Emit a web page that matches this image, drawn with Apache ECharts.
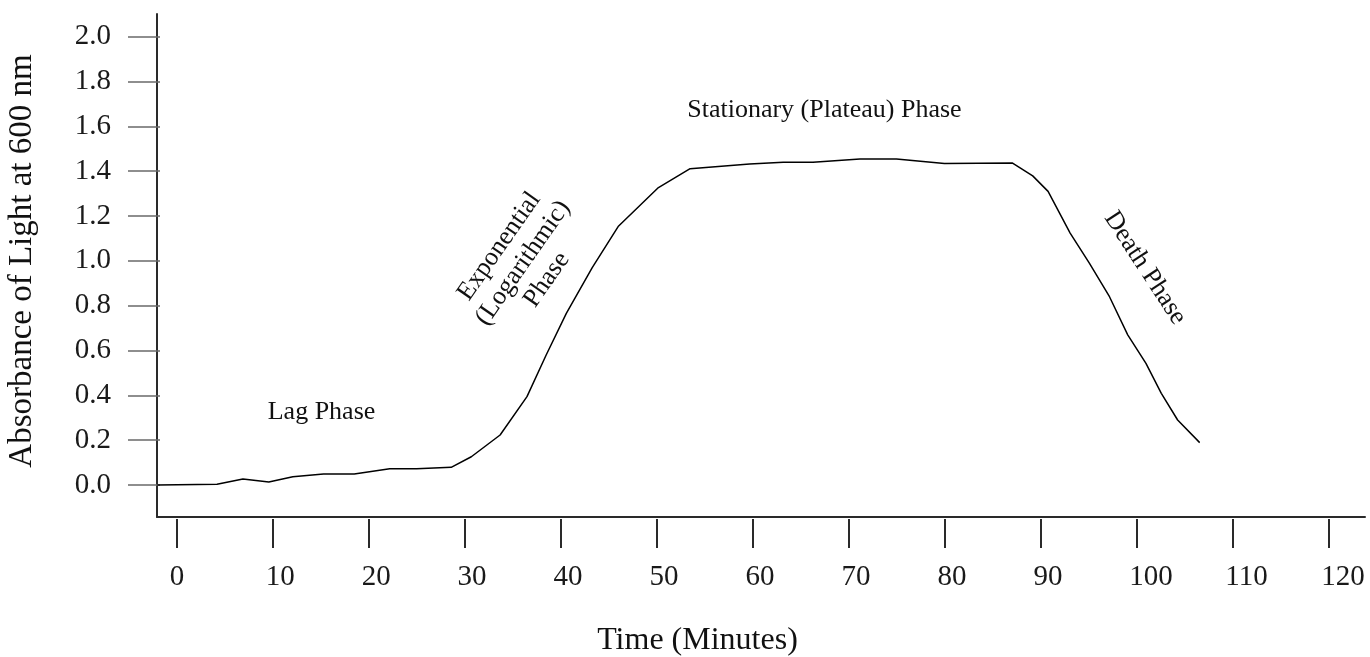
<!DOCTYPE html>
<html>
<head>
<meta charset="utf-8">
<script src="https://cdn.jsdelivr.net/npm/echarts@6/dist/echarts.min.js"></script>
<style>
  html, body { margin: 0; padding: 0; background: #fff; }
  #chart { width: 1370px; height: 657px; }
</style>
</head>
<body>
<div id="chart"></div>
<script>
// ---- data ----
const timeMinutes = [-2, 4.2, 6.9, 9.6, 12.1, 15.3, 18.5, 22.2, 25.0, 28.6, 30.7, 33.7, 36.5, 38.5, 40.6, 43.3, 46.0, 50.2, 53.5, 59.7, 63.2, 66.3, 71.2, 75.0, 80.0, 87.1, 89.2, 90.8, 93.1, 95.1, 97.2, 99.1, 101.0, 102.6, 104.3, 106.6];
const absorbance = [0, 0.003, 0.027, 0.013, 0.037, 0.049, 0.049, 0.073, 0.073, 0.079, 0.126, 0.223, 0.394, 0.58, 0.766, 0.97, 1.153, 1.327, 1.411, 1.432, 1.44, 1.44, 1.454, 1.454, 1.434, 1.436, 1.379, 1.31, 1.124, 0.99, 0.84, 0.67, 0.543, 0.409, 0.29, 0.189];
const xTicks = { min: 0, max: 120, interval: 10 };
const yTicks = { min: 0, max: 2.0, interval: 0.2 };
const xTitle = 'Time (Minutes)';
const yTitle = 'Absorbance of Light at 600 nm';
const phaseLabels = ['Lag Phase', 'Exponential\n(Logarithmic)\nPhase', 'Stationary (Plateau) Phase', 'Death Phase'];

// ---- layout (pixels) ----
const W = 1370, H = 657;
const frame = { left: 157, right: 1365, top: 14, bottom: 517 };       // axis-line box
const tickBox = { left: 176.7, right: 1328.3, top: 36.7, bottom: 485 }; // where 0..120 and 0..2 fall
const labelShift = -7;

const FONT = '"Liberation Serif", "DejaVu Serif", serif';
const points = timeMinutes.map((t, i) => [t, absorbance[i]]);

// frame axes share the tick scale, extended to the frame box
const pxX = (tickBox.right - tickBox.left) / (xTicks.max - xTicks.min);
const pxY = (tickBox.bottom - tickBox.top) / (yTicks.max - yTicks.min);
const frameX = { min: xTicks.min - (tickBox.left - frame.left) / pxX, max: xTicks.max + (frame.right - tickBox.right) / pxX };
const frameY = { min: yTicks.min - (frame.bottom - tickBox.bottom) / pxY, max: yTicks.max + (tickBox.top - frame.top) / pxY };

const gridBase = { containLabel: false, outerBoundsMode: 'none' };
const chart = echarts.init(document.getElementById('chart'), null, { renderer: 'canvas' });
chart.setOption({
  backgroundColor: '#ffffff',
  animation: false,
  grid: [
    Object.assign({ left: frame.left, right: W - frame.right, top: frame.top, bottom: H - frame.bottom }, gridBase),
    Object.assign({ left: tickBox.left, right: W - tickBox.right, top: tickBox.top, bottom: H - tickBox.bottom }, gridBase),
    Object.assign({ left: tickBox.left + labelShift, right: W - tickBox.right - labelShift, top: tickBox.top, bottom: H - tickBox.bottom }, gridBase)
  ],
  xAxis: [
    { gridIndex: 0, type: 'value', min: frameX.min, max: frameX.max,
      axisLine: { show: true, onZero: false, lineStyle: { color: '#2a2a2a', width: 2 } },
      axisTick: { show: false }, axisLabel: { show: false }, splitLine: { show: false } },
    { gridIndex: 1, type: 'value', min: xTicks.min, max: xTicks.max, interval: xTicks.interval,
      position: 'bottom', offset: 34,
      axisLine: { show: false, onZero: false },
      axisTick: { show: true, inside: false, length: 29, lineStyle: { color: '#2a2a2a', width: 2 } },
      axisLabel: { show: false }, splitLine: { show: false } },
    { gridIndex: 2, type: 'value', min: xTicks.min, max: xTicks.max, interval: xTicks.interval,
      position: 'bottom', offset: 34,
      axisLine: { show: false, onZero: false }, axisTick: { show: false },
      axisLabel: { show: true, margin: 44, align: 'left', fontFamily: FONT, fontSize: 29, color: '#1a1a1a' },
      splitLine: { show: false } }
  ],
  yAxis: [
    { gridIndex: 0, type: 'value', min: frameY.min, max: frameY.max,
      axisLine: { show: true, onZero: false, lineStyle: { color: '#2a2a2a', width: 2 } },
      axisTick: { show: false }, axisLabel: { show: false }, splitLine: { show: false } },
    { gridIndex: 1, type: 'value', min: yTicks.min, max: yTicks.max, interval: yTicks.interval,
      position: 'left', offset: 48.7,
      axisLine: { show: false, onZero: false },
      axisTick: { show: true, inside: true, length: 32, lineStyle: { color: '#6a6a6a', width: 1.5 } },
      axisLabel: { show: true, margin: 17, fontFamily: FONT, fontSize: 29, color: '#1a1a1a',
        formatter: v => v.toFixed(1) },
      splitLine: { show: false } },
    { gridIndex: 2, type: 'value', min: yTicks.min, max: yTicks.max, show: false }
  ],
  series: [{
    type: 'line',
    xAxisIndex: 0,
    yAxisIndex: 0,
    data: points,
    showSymbol: false,
    symbol: 'none',
    smooth: false,
    lineStyle: { color: '#000', width: 1.5 }
  }],
  graphic: [
    { type: 'text', x: 22, y: 261, rotation: Math.PI / 2,
      style: { text: yTitle, font: '33px ' + FONT, fill: '#111', textAlign: 'center', textVerticalAlign: 'middle' } },
    { type: 'text', x: 697.5, y: 641,
      style: { text: xTitle, font: '32px ' + FONT, fill: '#111', textAlign: 'center', textVerticalAlign: 'middle' } },
    { type: 'text', x: 321.5, y: 412,
      style: { text: phaseLabels[0], font: '26px ' + FONT, fill: '#111', textAlign: 'center', textVerticalAlign: 'middle' } },
    { type: 'text', x: 523, y: 263, rotation: 55 * Math.PI / 180,
      style: { text: phaseLabels[1], font: '26px ' + FONT, lineHeight: 29, fill: '#111', textAlign: 'center', textVerticalAlign: 'middle' } },
    { type: 'text', x: 824.4, y: 110,
      style: { text: phaseLabels[2], font: '26px ' + FONT, fill: '#111', textAlign: 'center', textVerticalAlign: 'middle' } },
    { type: 'text', x: 1145, y: 268, rotation: -57 * Math.PI / 180,
      style: { text: phaseLabels[3], font: '26px ' + FONT, fill: '#111', textAlign: 'center', textVerticalAlign: 'middle' } }
  ]
});
</script>
</body>
</html>
